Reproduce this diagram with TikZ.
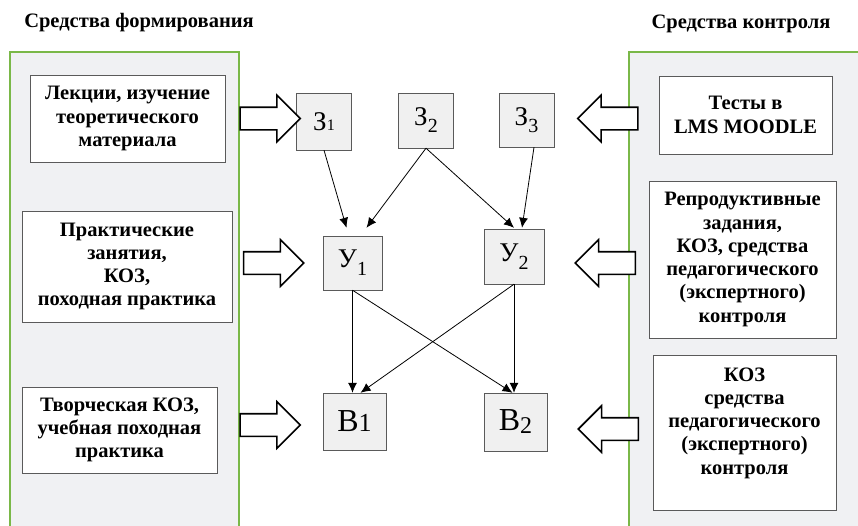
\documentclass[tikz,border=0pt]{standalone}
\usepackage{fontspec}
\setmainfont{Liberation Serif}[BoldFont={Liberation Serif Bold}]
\usepackage{tikz}
\usetikzlibrary{arrows}
\usetikzlibrary{arrows.meta}
\usetikzlibrary{calc}
\usetikzlibrary{shapes.arrows}
\definecolor{panelgray}{RGB}{240,241,243}
\definecolor{panelgreen}{RGB}{122,184,72}
\definecolor{boxgray}{RGB}{240,240,240}
\definecolor{boxline}{RGB}{90,90,90}
\tikzset{basic box/.style={draw=boxline,rectangle,inner sep=0pt}}
\tikzset{text box/.style={basic box,
                          fill=white,
                          align=center,
                          font=\bfseries\fontsize{20.5}{23.3}\selectfont}}
\tikzset{letter box/.style={basic box,fill=boxgray,font=\fontsize{27}{27}\selectfont}}
\tikzset{block arrow/.style={single arrow,
                             draw,
                             line width=1.6pt,
                             fill=white,
                             inner xsep=0pt,
                             inner ysep=10.5pt,
                             minimum width=45pt,
                             single arrow head extend=12pt,
                             minimum height=60pt}}
\tikzset{link/.style={draw,
                      line width=0.8pt,
                      -{Latex[length=10pt,width=9pt]}}}
\newcommand{\idx}[3]{\raisebox{-#1pt}{\fontsize{#2}{#2}\selectfont #3}}

\begin{document}
\begin{tikzpicture}
      [
      x=1pt,y=-1pt,
      panel/.style={fill=panelgray,draw=panelgreen,line width=1.5pt},
      title/.style={font=\bfseries\fontsize{20.5}{23.3}\selectfont},
      ]
      \useasboundingbox (0,0) rectangle (858,525);

      % panels
      \path [panel] (10,530) -- (10,52) -- (239,52) -- (239,530);
      \path [panel] (629,530) -- (629,52) -- (864,52) -- (864,530);

      \node [title] (T1) at (139,23) {Средства формирования};
      \node [title] (T2) at (741,24) {Средства контроля};

      % boxes, left
      \node [text box,minimum width=195pt,minimum height=87pt] (L1) at (127.5,118.5)
      {Лекции, изучение\\теоретического\\материала};
      \node [text box,minimum width=210pt,minimum height=111pt] (L2) at (127,266.5)
      {Практические\\занятия,\\КОЗ,\\походная практика};
      \node [text box,minimum width=195pt,minimum height=86pt] (L3) at (119.5,430)
      {Творческая КОЗ,\\учебная походная\\практика};

      % boxes, right
      \node [text box,minimum width=173pt,minimum height=78pt] (R1) at (745.5,115)
      {Тесты в\\LMS MOODLE};
      \node [text box,minimum width=187pt,minimum height=157pt] (R2) at (742.5,259.5)
      {Репродуктивные\\задания,\\КОЗ, средства\\педагогического\\(экспертного)\\контроля};
      \node [text box,minimum width=183pt,minimum height=155pt] (R3) at (744.5,432.5)
      {КОЗ\\средства\\педагогического\\(экспертного)\\контроля\\\mbox{}};

      % vertices
      \foreach \n/\x/\y/\w/\h/\l in
      {
      Z1/324/121.5/55/57/{З\idx{0}{16}{1}},
      Z2/426/120.5/55/55/{З\idx{7}{20}{2}},
      Z3/526.5/120/55/54/{З\idx{7}{20}{3}},
      U1/352.5/263/59/54/{У\idx{8}{20}{1}},
      U2/514/256.5/60/55/{У\idx{8}{20}{2}},
      B1/354.5/421.5/63/57/{\fontsize{32}{32}\selectfont В\idx{0}{26}{1}},
      B2/515.5/422/63/58/{\fontsize{32}{32}\selectfont В\idx{3}{24}{2}}
      }
      {
      \node [letter box,minimum width=\w pt,minimum height=\h pt] (\n) at (\x,\y) {\l};
      }

      % big arrows
      \foreach \i/\x/\y/\r in
      {1/264.5/118.5/0, 2/268/263/0, 3/264.5/425/0,
       4/613.5/118.5/180, 5/611/263/180, 6/614/429/180}
      {
      \node [block arrow,shape border rotate=\r] (A\i) at (\x,\y) {};
      }

      % edges
      \path [link] (Z1.south) -- ($(U1.north)+(-6,-8)$);
      \path [link] (Z2.south) -- ($(U1.north)+(14,-8)$);
      \path [link] (Z2.south) -- ($(U2.north)+(0,-1)$);
      \path [link] ($(Z3.south)+(7.5,0)$) -- ($(U2.north)+(8,-1)$);

      \path [link] (U1.south) -- (U1.south |- B1.north);
      \path [link] (U1.south) -- ($(B2.north)+(-3,0)$);
      \path [link] (U2.south) -- ($(B1.north)+(6,0)$);
      \path [link] (U2.south) -- (U2.south |- B2.north);

    \end{tikzpicture}
\end{document}
